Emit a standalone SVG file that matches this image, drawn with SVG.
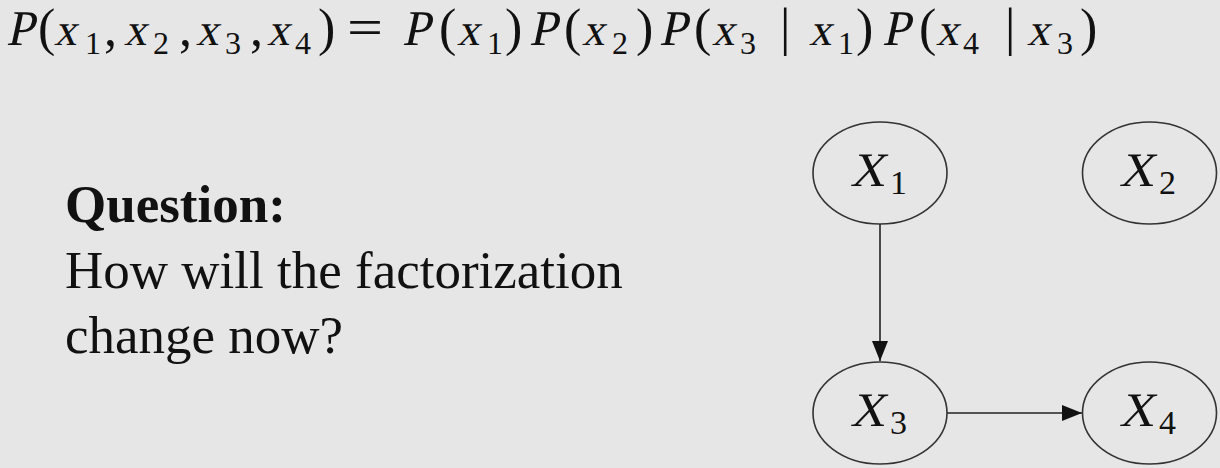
<svg xmlns="http://www.w3.org/2000/svg" width="1220" height="468" viewBox="0 0 1220 468">
  <style>
    .P { font-size: 50px; }
    .x { font-size: 45px; }
    .r { font-size: 52px; }
    .s { font-size: 32px; }
    .body { font-size: 53px; }
    .node ellipse { fill: none; stroke: #333; stroke-width: 1.6; }
    .edge { stroke: #222; stroke-width: 1.6; fill: none; }
  </style>
  <defs>
    <marker id="arrow" viewBox="0 0 20 16" refX="20" refY="8" markerWidth="20" markerHeight="16" markerUnits="userSpaceOnUse" orient="auto">
      <path d="M0,0 L20,8 L0,16 Z" fill="#111"/>
    </marker>
  </defs>
  <rect width="1220" height="468" fill="#e6e6e6"/>

  <g id="equation" font-family="'Liberation Serif', 'Times New Roman', serif" fill="#111">
    <text transform="translate(0,45) skewX(-12)">
      <tspan class="P" x="6">P</tspan><tspan class="x" x="54">x</tspan><tspan class="x" x="124">x</tspan><tspan class="x" x="196">x</tspan><tspan class="x" x="267">x</tspan><tspan class="P" x="402">P</tspan><tspan class="x" x="457">x</tspan><tspan class="P" x="529">P</tspan><tspan class="x" x="582">x</tspan><tspan class="P" x="659">P</tspan><tspan class="x" x="712">x</tspan><tspan class="x" x="809">x</tspan><tspan class="P" x="882">P</tspan><tspan class="x" x="936">x</tspan><tspan class="x" x="1027">x</tspan>
    </text>
    <text y="45">
      <tspan class="r" x="38">(</tspan><tspan class="s" x="85" y="54">1</tspan><tspan class="r" x="104" y="45">,</tspan><tspan class="s" x="153" y="54">2</tspan><tspan class="r" x="179" y="45">,</tspan><tspan class="s" x="225" y="54">3</tspan><tspan class="r" x="250" y="45">,</tspan><tspan class="s" x="295" y="54">4</tspan><tspan class="r" x="318" y="45">)</tspan>
    </text>
    <text x="347" y="45" font-size="52" textLength="36" lengthAdjust="spacingAndGlyphs">=</text>
    <text y="45">
      <tspan class="r" x="439">(</tspan><tspan class="s" x="487" y="54">1</tspan><tspan class="r" x="505" y="45">)</tspan><tspan class="r" x="564">(</tspan><tspan class="s" x="612" y="54">2</tspan><tspan class="r" x="636" y="45">)</tspan><tspan class="r" x="694">(</tspan><tspan class="s" x="740" y="54">3</tspan><tspan class="r" x="780" y="45">|</tspan><tspan class="s" x="838" y="54">1</tspan><tspan class="r" x="856" y="45">)</tspan><tspan class="r" x="919">(</tspan><tspan class="s" x="963" y="54">4</tspan><tspan class="r" x="1005" y="45">|</tspan><tspan class="s" x="1057" y="54">3</tspan><tspan class="r" x="1080" y="45">)</tspan>
    </text>
  </g>

  <g id="question" font-family="'Liberation Serif', 'Times New Roman', serif" fill="#111">
    <text class="body" x="65" y="222" font-weight="bold">Question:</text>
    <text class="body" x="65" y="288">How will the factorization</text>
    <text class="body" x="65" y="353">change now?</text>
  </g>

  <g id="connectors">
    <line class="edge" x1="880" y1="224" x2="880" y2="361" marker-end="url(#arrow)"/>
    <line class="edge" x1="947" y1="413" x2="1082" y2="413" marker-end="url(#arrow)"/>
  </g>

  <g id="X1" class="node" font-family="'Liberation Serif', 'Times New Roman', serif" fill="#111">
    <ellipse cx="880" cy="173" rx="67" ry="51"/>
    <text font-size="48" transform="translate(850,186) skewX(-12)">X</text>
    <text font-size="34" x="890" y="194">1</text>
  </g>
  <g id="X2" class="node" font-family="'Liberation Serif', 'Times New Roman', serif" fill="#111">
    <ellipse cx="1149.5" cy="173" rx="67" ry="51"/>
    <text font-size="48" transform="translate(1119,186) skewX(-12)">X</text>
    <text font-size="34" x="1159" y="194">2</text>
  </g>
  <g id="X3" class="node" font-family="'Liberation Serif', 'Times New Roman', serif" fill="#111">
    <ellipse cx="880" cy="413" rx="67" ry="51"/>
    <text font-size="48" transform="translate(850,426) skewX(-12)">X</text>
    <text font-size="34" x="890" y="434">3</text>
  </g>
  <g id="X4" class="node" font-family="'Liberation Serif', 'Times New Roman', serif" fill="#111">
    <ellipse cx="1149.5" cy="413" rx="67" ry="51"/>
    <text font-size="48" transform="translate(1119,426) skewX(-12)">X</text>
    <text font-size="34" x="1159" y="434">4</text>
  </g>
</svg>
